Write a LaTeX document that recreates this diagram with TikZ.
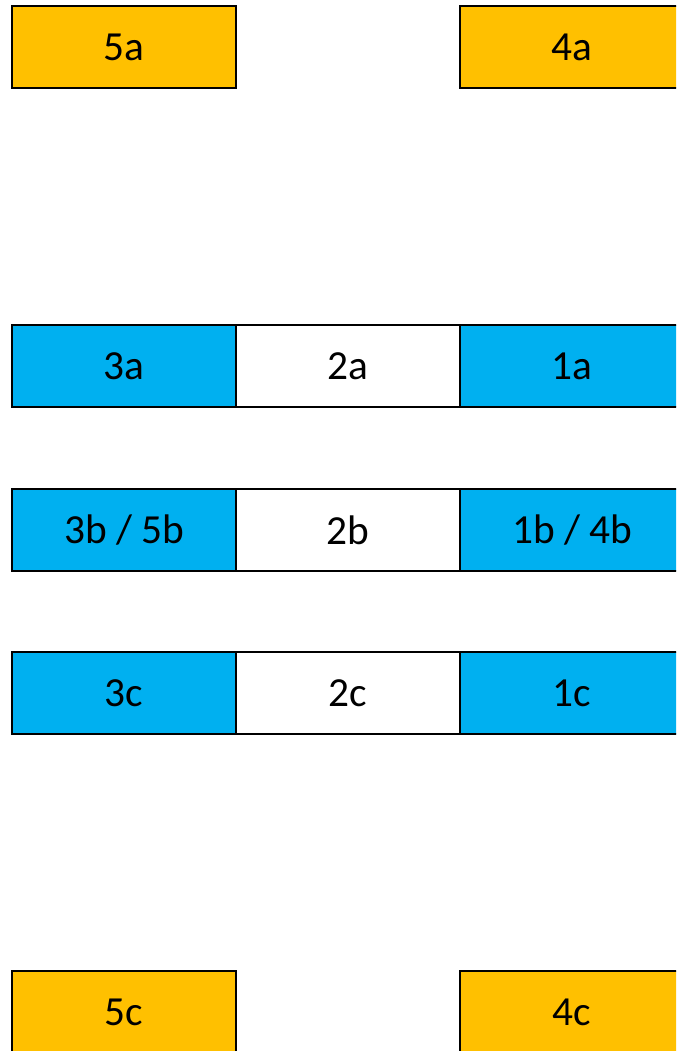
\documentclass[tikz,border=0pt]{standalone}
\usepackage{fontspec}
\setmainfont{Carlito}
\definecolor{gold}{HTML}{FFC000}
\definecolor{sky}{HTML}{00B0F0}
\begin{document}
\begin{tikzpicture}[x=0.75pt,y=-0.75pt,
  cell/.style={draw=black,line width=1.7pt,minimum width=224*0.75pt,minimum height=82*0.75pt,inner sep=0pt,font=\fontsize{31}{37}\selectfont,anchor=north west},
  goldcell/.style={cell,fill=gold},
  skycell/.style={cell,fill=sky},
  whitecell/.style={cell,fill=white}]
\useasboundingbox (0,0) rectangle (676,1051);
\clip (0,0) rectangle (676,1051);
\node[goldcell] (n5a) at (11,5) {5a};
\node[goldcell] (n4a) at (459,5) {4a};
\node[skycell] (n3a) at (11,324) {3a};
\node[whitecell] (n2a) at (235,324) {2a};
\node[skycell] (n1a) at (459,324) {1a};
\node[skycell] (n3b) at (11,488) {3b / 5b};
\node[whitecell] (n2b) at (235,488) {2b};
\node[skycell] (n1b) at (459,488) {1b / 4b};
\node[skycell] (n3c) at (11,651) {3c};
\node[whitecell] (n2c) at (235,651) {2c};
\node[skycell] (n1c) at (459,651) {1c};
\node[goldcell] (n5c) at (11,970) {5c};
\node[goldcell] (n4c) at (459,970) {4c};
\end{tikzpicture}
\end{document}
